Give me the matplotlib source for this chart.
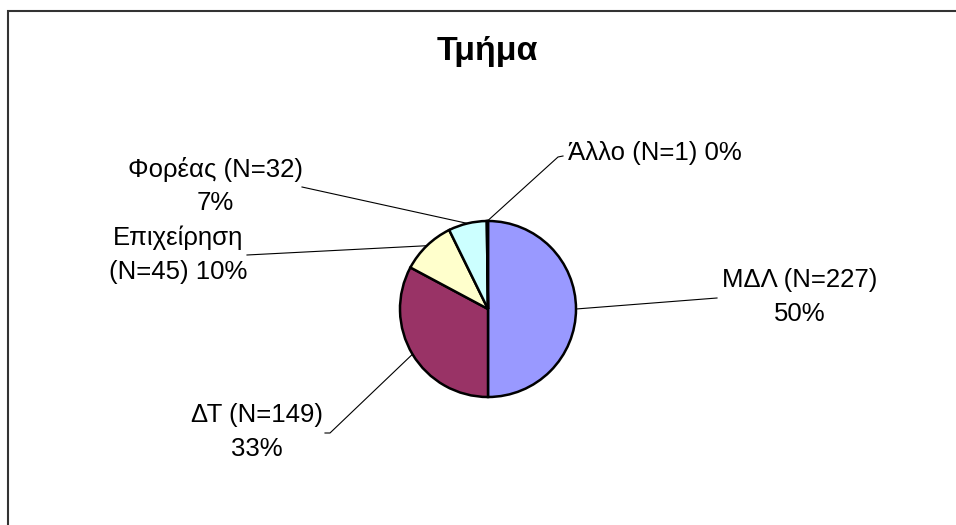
import numpy as np
import matplotlib.pyplot as plt
from matplotlib.patches import Rectangle

plt.rcParams['font.family'] = ['Liberation Sans', 'DejaVu Sans']

# data
categories = ["ΜΔΛ", "ΔΤ", "Επιχείρηση", "Φορέας", "Άλλο"]
counts = [227, 149, 45, 32, 1]
colors = ["#9999FF", "#993366", "#FFFFCC", "#CCFFFF", "#660066"]

W, H = 956, 525
CX, CY, R = 488, 309, 88   # pie centre / radius in image pixels


def px(x, y):
    # image pixel -> pie data coords (1 unit = radius)
    return (x - CX) / R, (CY - y) / R


fig = plt.figure(figsize=(W / 100, H / 100), dpi=100)
ax = fig.add_axes([(CX - R) / W, (H - CY - R) / H, 2 * R / W, 2 * R / H])

wedges, _ = ax.pie(counts, colors=colors, startangle=90, counterclock=False,
                   wedgeprops=dict(edgecolor="black", linewidth=1.8))
ax.set_xlim(-1, 1)
ax.set_ylim(-1, 1)
ax.set_aspect("equal")
ax.axis("off")

total = sum(counts)
pcts = [round(100 * c / total) for c in counts]

# label text, text centre, leader line points (image px)
labels = [
    (f"{categories[0]} (N={counts[0]})\n{pcts[0]}%", (800, 297), "center", [(717, 298)]),
    (f"{categories[1]} (N={counts[1]})\n{pcts[1]}%", (257, 432), "center", [(330, 433), (325, 433)]),
    (f"{categories[2]}\n(N={counts[2]}) {pcts[2]}%", (178, 255), "center", [(247, 255)]),
    (f"{categories[3]} (N={counts[3]})\n{pcts[3]}%", (215, 186), "center", [(302, 187)]),
    (f"{categories[4]} (N={counts[4]}) {pcts[4]}%", (568, 153), "left", [(558, 157), (563, 156)]),
]

for w, (txt, pos, ha, pts) in zip(wedges, labels):
    mid = np.deg2rad((w.theta1 + w.theta2) / 2)
    xs = [np.cos(mid)] + [px(*p)[0] for p in pts]
    ys = [np.sin(mid)] + [px(*p)[1] for p in pts]
    ax.plot(xs, ys, color="black", lw=0.8, clip_on=False)
    tx, ty = px(*pos)
    ax.text(tx, ty, txt, ha=ha, va="center", multialignment="center",
            fontsize=18.5, linespacing=1.5, clip_on=False)

fig.text(487 / W, 1 - 51 / H, "Τμήμα", ha="center", va="center",
         fontsize=24.5, fontweight="bold")

fig.add_artist(Rectangle((8 / W, -0.1), 1.2, 1 - 11 / H + 0.1, transform=fig.transFigure,
                         fill=False, edgecolor="#333333", linewidth=1.5))

fig.savefig("out.png", dpi=100)
